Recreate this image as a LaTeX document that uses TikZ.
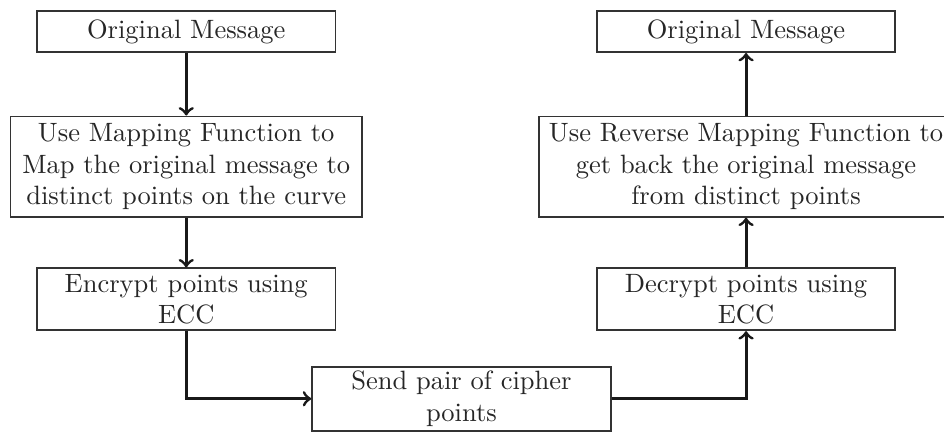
\documentclass[tikz,border=0pt]{standalone}
\usepackage{amsmath}
\usepackage{xcolor}
\usepackage{tikz}
\usetikzlibrary{shapes,arrows,positioning}

\begin{document}
\begin{tikzpicture}[
    node distance=0.66cm,
    block/.style={rectangle, draw=black!80, line width=0.7pt, minimum width=3.96cm, align=center, fill=white, text=black!85, inner ysep=0pt},
    arrow/.style={->, line width=1.1pt, black!90}
]
\useasboundingbox (0,0) rectangle (12.52,-5.73);

\node[block, minimum height=0.54cm] (orig) at (2.47,-0.42) {Original Message};
\node[block, minimum width=4.66cm, minimum height=1.33cm, below=0.83cm of orig] (map) {Use Mapping Function to\\Map the original message to\\distinct points on the curve};
\node[block, minimum height=0.82cm, below=of map] (encrypt) {Encrypt points using\\ECC};
\node[block, minimum height=0.85cm, below=0.46cm of encrypt, xshift=3.65cm] (send) {Send pair of cipher\\points};
\node[block, minimum height=0.82cm, right=3.44cm of encrypt] (decrypt) {Decrypt points using\\ECC};
\node[block, minimum width=5.5cm, minimum height=1.33cm, above=of decrypt] (revmap) {Use Reverse Mapping Function to\\get back the original message\\from distinct points};
\node[block, minimum height=0.54cm, above=0.83cm of revmap] (orig2) {Original Message};

\draw[arrow] (orig) -- (map);
\draw[arrow] (map) -- (encrypt);
\draw[arrow] (encrypt) |- (send);
\draw[arrow] (send) -| (decrypt);
\draw[arrow] (decrypt) -- (revmap);
\draw[arrow] (revmap) -- (orig2);

\end{tikzpicture}
\end{document}
